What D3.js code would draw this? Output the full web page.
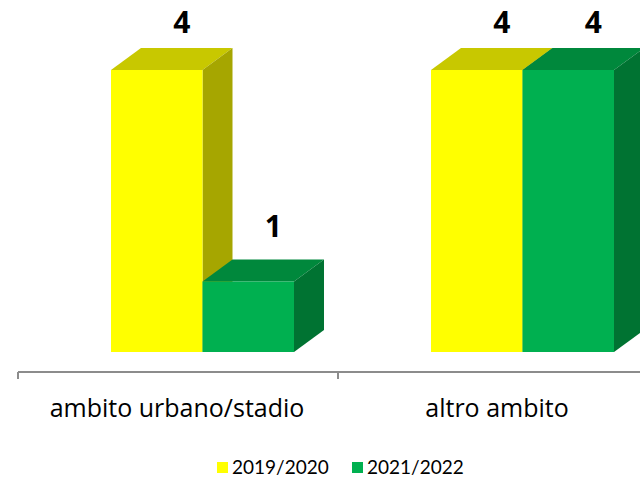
<!DOCTYPE html>
<html><head><meta charset="utf-8">
<script src="https://cdn.jsdelivr.net/npm/d3@7"></script>
<style>html,body{margin:0;padding:0;background:#fff;overflow:hidden}</style>
</head><body>
<svg id="c" width="640" height="480"></svg>
<script>
const categories = ["ambito urbano/stadio", "altro ambito"];
const seriesNames = ["2019/2020", "2021/2022"];
const values2019 = [4, 4];
const values2021 = [1, 4];
const labelsVals = [values2019, values2021];

const faceColors = [
  {front:"#FFFF00", top:"#C8C800", side:"#A6A600"},
  {front:"#00B050", top:"#00883C", side:"#007332"}
];

const svg = d3.select("#c");
const x = d3.scaleBand().domain(categories).range([18, 658]);
const inner = d3.scaleBand().domain(seriesNames).range([93, 276]);
const y = d3.scaleLinear().domain([0, 4]).range([352, 70]);
const yLabel = d3.scaleLinear().domain([0, 4]).range([305, 33]);
const dx = 30, dy = -22;

const data = [];
categories.forEach((c, i) => {
  seriesNames.forEach((s, j) => {
    data.push({cat: c, ser: s, j: j, v: labelsVals[j][i]});
  });
});

const g = svg.append("g");
data.forEach(d => {
  const x0 = x(d.cat) + inner(d.ser), w = inner.bandwidth();
  const x1 = x0 + w, yt = y(d.v), yb = y(0);
  const col = faceColors[d.j];
  const bg = g.append("g");
  bg.append("path")
    .attr("d", `M${x0},${yt}L${x0+dx},${yt+dy}L${x1+dx},${yt+dy}L${x1},${yt}Z`)
    .attr("fill", col.top);
  bg.append("path")
    .attr("d", `M${x1},${yt}L${x1+dx},${yt+dy}L${x1+dx},${yb+dy}L${x1},${yb}Z`)
    .attr("fill", col.side);
  bg.append("rect").attr("x", x0).attr("y", yt).attr("width", w).attr("height", yb - yt)
    .attr("fill", col.front);
});

g.selectAll("text.val").data(data).enter().append("text")
  .attr("class", "val")
  .attr("x", d => x(d.cat) + inner(d.ser) + inner.bandwidth()/2 + 25)
  .attr("y", d => yLabel(d.v))
  .attr("text-anchor", "middle")
  .attr("font-family", "Open Sans, sans-serif")
  .attr("font-weight", "bold")
  .attr("font-size", 30)
  .attr("fill", "#000")
  .text(d => d.v);

const axis = d3.axisBottom(x).tickSize(7).tickSizeOuter(0).tickFormat("");
const ax = svg.append("g").attr("transform", "translate(0,372)");
ax.call(axis);
ax.select(".domain").attr("stroke", "#8C8C8C").attr("stroke-width", 2)
  .attr("d", `M${x.range()[0]},0H${x.range()[1]}`);
ax.selectAll(".tick").remove();
ax.selectAll("line.b").data(categories.map(c => x(c)).concat([x(categories[1]) + x.bandwidth()]))
  .enter().append("line").attr("class","b")
  .attr("x1", d => d).attr("x2", d => d).attr("y1", 0).attr("y2", 7)
  .attr("stroke", "#8C8C8C").attr("stroke-width", 2);

svg.selectAll("text.cat").data(categories).enter().append("text")
  .attr("class", "cat")
  .attr("x", d => x(d) + x.bandwidth()/2 - 1)
  .attr("y", 417)
  .attr("text-anchor", "middle")
  .attr("font-family", "Open Sans, sans-serif")
  .attr("font-size", 25)
  .attr("fill", "#000")
  .text(d => d);

const legX = [217, 352];
const lg = svg.selectAll("g.leg").data(seriesNames).enter().append("g")
  .attr("class", "leg")
  .attr("transform", (d, i) => `translate(${legX[i]},462)`);
lg.append("rect").attr("width", 11).attr("height", 11).attr("fill", (d, i) => faceColors[i].front);
lg.append("text").attr("x", 15).attr("y", 12)
  .attr("font-family", "Lato, sans-serif").attr("font-size", 19).attr("fill", "#000")
  .text(d => d);
</script>
</body></html>
